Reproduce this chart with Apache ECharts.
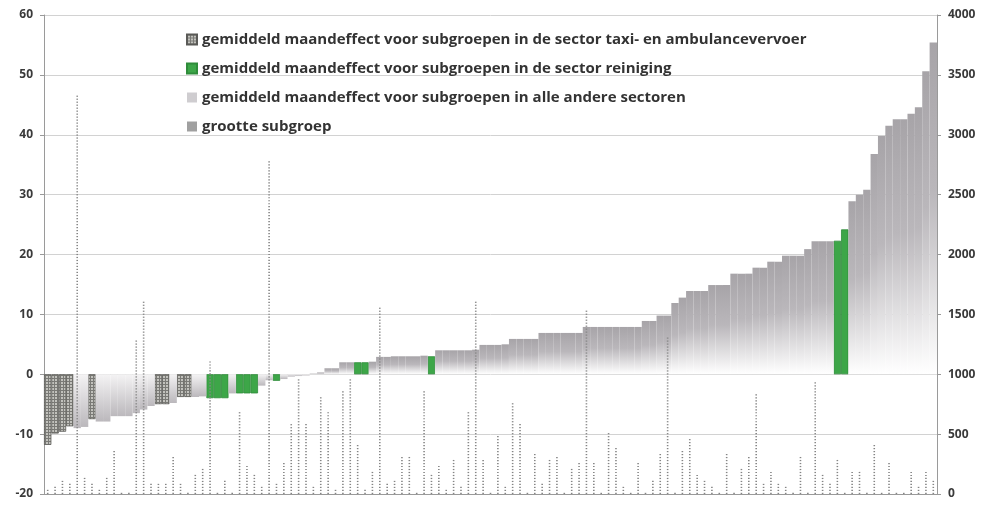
<!DOCTYPE html>
<html><head><meta charset="utf-8">
<script src="https://cdn.jsdelivr.net/npm/echarts@6.0.0/dist/echarts.min.js"></script>
<style>html,body{margin:0;padding:0;background:#fff}#c{width:991px;height:507px}</style>
</head><body><div id="c"></div>
<script>
// gemiddeld maandeffect per subgroep (linker as)
const effect = [
 -11.8,-9.9,-9.6,-8.7,-9.0,-8.8,-7.5,-7.9,-7.9,-7.0,
 -7.0,-7.0,-6.5,-5.9,-5.3,-5.0,-5.0,-4.8,-3.8,-3.8,
 -3.8,-3.7,-4.0,-4.0,-4.0,-3.2,-3.2,-3.2,-3.2,-1.9,
 -1.0,-1.1,-0.8,-0.4,-0.3,-0.2,0.1,0.3,1.0,1.0,
 2.0,2.0,2.0,2.0,2.1,2.9,2.9,3.0,3.0,3.0,
 3.0,3.1,3.0,4.0,4.0,4.0,4.0,4.0,4.1,4.9,
 4.9,4.9,5.0,5.9,5.9,5.9,5.9,6.9,6.9,6.9,
 6.9,6.9,6.9,7.9,7.9,7.9,7.9,7.9,7.9,7.9,
 7.9,8.9,8.9,9.8,9.8,11.9,12.8,13.9,13.9,13.9,
 14.9,14.9,14.9,16.8,16.8,16.8,17.8,17.8,18.8,18.8,
 19.8,19.8,19.8,20.9,22.2,22.2,22.2,22.3,24.2,28.9,
 30.0,30.8,36.8,39.8,41.5,42.6,42.6,43.5,44.6,50.6,
 55.4];
// sector per subgroep: T = taxi- en ambulancevervoer, G = reiniging, O = overig
const sector = [
 'T','T','T','T','O','O','T','O','O','O',
 'O','O','O','O','O','T','T','O','T','T',
 'O','O','G','G','G','O','G','G','G','O',
 'O','G','O','O','O','O','O','O','O','O',
 'O','O','G','G','O','O','O','O','O','O',
 'O','O','G','O','O','O','O','O','O','O',
 'O','O','O','O','O','O','O','O','O','O',
 'O','O','O','O','O','O','O','O','O','O',
 'O','O','O','O','O','O','O','O','O','O',
 'O','O','O','O','O','O','O','O','O','O',
 'O','O','O','O','O','O','O','G','G','O',
 'O','O','O','O','O','O','O','O','O','O',
 'O'];
// grootte subgroep (rechter as)
const groupSize = [
 30,40,97,64,3325,133,64,20,125,356,
 10,5,1273,1599,64,64,64,286,78,10,
 147,203,1098,10,106,10,675,231,147,50,
 2760,78,259,578,940,578,50,800,662,30,
 834,945,389,28,180,1556,70,97,292,292,
 10,848,139,222,28,264,42,681,1598,264,
 10,459,42,750,570,10,334,70,264,306,
 10,209,250,1515,250,10,500,375,42,10,
 245,10,97,317,1297,10,345,442,138,97,
 41,10,317,10,193,304,814,69,166,69,
 41,10,290,10,930,138,69,262,10,166,
 166,10,386,10,235,10,10,166,41,179,
 100];
const categories = effect.map((v, i) => String(i + 1));
const legendNames = [
 'gemiddeld maandeffect voor subgroepen in de sector taxi- en ambulancevervoer',
 'gemiddeld maandeffect voor subgroepen in de sector reiniging',
 'gemiddeld maandeffect voor subgroepen in alle andere sectoren',
 'grootte subgroep'];
const leftAxis = {min: -20, max: 60, interval: 10};
const rightAxis = {min: 0, max: 4000, interval: 500};

function checker() {
  const c = document.createElement('canvas'); c.width = 3; c.height = 3;
  const g = c.getContext('2d');
  g.fillStyle = '#c2c2bd'; g.fillRect(0, 0, 3, 3);
  g.fillStyle = '#7a7a76'; g.fillRect(0, 0, 3, 1); g.fillRect(0, 0, 1, 3);
  return c;
}
const G = echarts.graphic.LinearGradient;
const posGrad = new G(0, 0, 0, 1, [{offset: 0, color: '#a7a4a8'}, {offset: 0.45, color: '#bab7bb'}, {offset: 1, color: '#ffffff'}]);
const negGrad = new G(0, 1, 0, 0, [{offset: 0, color: '#bbb8bc'}, {offset: 1, color: '#f4f3f4'}]);

const taxiData = effect.map((v, i) => sector[i] === 'T' ? v : '-');
const greenData = effect.map((v, i) => sector[i] === 'G' ? v : '-');
const otherData = effect.map((v, i) => sector[i] === 'O' ? {value: v, itemStyle: {color: v >= 0 ? posGrad : negGrad}} : '-');

const font = 'Open Sans';
const chart = echarts.init(document.getElementById('c'), null, {renderer: 'canvas'});
chart.setOption({
  animation: false,
  grid: {left: 44, right: 54, top: 15, bottom: 13},
  legend: {
    orient: 'vertical', left: 181, top: 27, itemWidth: 10, itemHeight: 10, itemGap: 14, itemTextGap: 5,
    textStyle: {fontFamily: font, fontWeight: 'bold', fontSize: 15, color: '#333', lineHeight: 15},
    data: [
      {name: legendNames[0], icon: 'rect'},
      {name: legendNames[1], icon: 'rect'},
      {name: legendNames[2], icon: 'rect'},
      {name: legendNames[3], icon: 'rect', itemStyle: {color: '#a0a0a0'}}
    ]
  },
  xAxis: {
    type: 'category', data: categories, boundaryGap: true,
    axisLine: {onZero: false, lineStyle: {color: '#9a9a9a'}}, axisTick: {show: false}, axisLabel: {show: false}
  },
  yAxis: [
    {type: 'value', min: leftAxis.min, max: leftAxis.max, interval: leftAxis.interval,
     axisLine: {show: true, lineStyle: {color: '#9a9a9a'}},
     axisTick: {show: true, length: 4, lineStyle: {color: '#9a9a9a'}},
     axisLabel: {margin: 11, fontFamily: font, fontWeight: 'bold', fontSize: 12, color: '#3a3a3a'},
     splitLine: {lineStyle: {color: '#d2d2d2'}}},
    {type: 'value', position: 'right', min: rightAxis.min, max: rightAxis.max, interval: rightAxis.interval,
     axisLine: {show: true, lineStyle: {color: '#9a9a9a'}},
     axisTick: {show: true, length: 4, lineStyle: {color: '#9a9a9a'}},
     axisLabel: {margin: 11, fontFamily: font, fontWeight: 'bold', fontSize: 12, color: '#3a3a3a',
                 formatter: v => String(v)},
     splitLine: {show: false}}
  ],
  series: [
    {name: legendNames[0], type: 'bar', data: taxiData, barGap: '-100%', barCategoryGap: 0,
     itemStyle: {color: {image: checker(), repeat: 'repeat'}, borderColor: '#5a5a57', borderWidth: 0.8}},
    {name: legendNames[1], type: 'bar', data: greenData, barGap: '-100%', barCategoryGap: 0,
     itemStyle: {color: '#3da648', borderColor: '#2f8c3a', borderWidth: 0.8}},
    {name: legendNames[2], type: 'bar', data: otherData, barGap: '-100%', barCategoryGap: 0,
     itemStyle: {color: '#cfcdd0'}},
    {name: legendNames[3], type: 'pictorialBar', yAxisIndex: 1, data: groupSize, z: 5,
     symbol: 'rect', symbolRepeat: true, symbolSize: [1.6, 1.2], symbolMargin: 0.9, barWidth: 2,
     itemStyle: {color: '#858585'}}
  ]
});
</script></body></html>
